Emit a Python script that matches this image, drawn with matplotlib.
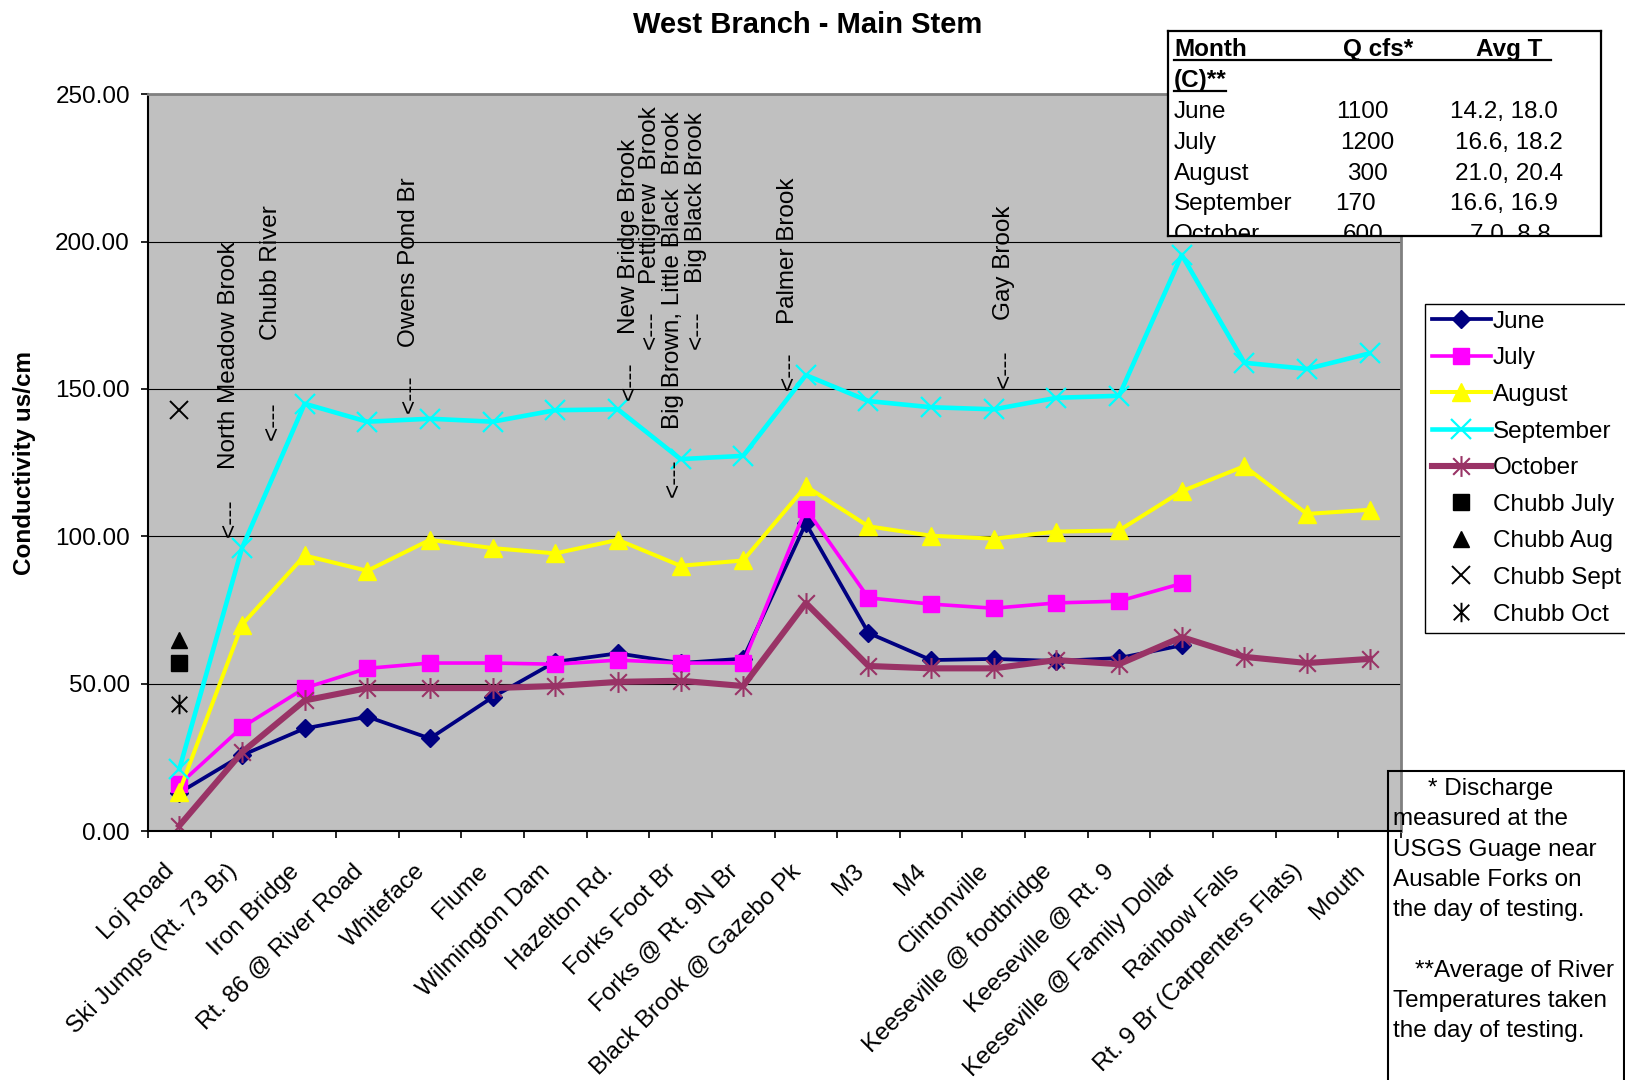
import numpy as np
import matplotlib
matplotlib.use("Agg")
import matplotlib.pyplot as plt
from matplotlib.path import Path
from matplotlib.patches import Rectangle
from matplotlib.transforms import ScaledTranslation

plt.rcParams['font.family'] = ['Liberation Sans', 'DejaVu Sans']

# ---- data -------------------------------------------------------------
sites = ["Loj Road", "Ski Jumps (Rt. 73 Br)", "Iron Bridge", "Rt. 86 @ River Road",
         "Whiteface", "Flume", "Wilmington Dam", "Hazelton Rd.", "Forks Foot Br",
         "Forks @ Rt. 9N Br", "Black Brook @ Gazebo Pk", "M3", "M4", "Clintonville",
         "Keeseville @ footbridge", "Keeseville @ Rt. 9", "Keeseville @ Family Dollar",
         "Rainbow Falls", "Rt. 9 Br (Carpenters Flats)", "Mouth"]

june = [13.0, 25.7, 34.8, 38.8, 31.4, 45.4, 57.4, 60.3, 57.0, 58.5, 104.4,
        67.2, 58.0, 58.4, 57.7, 58.7, 63.0]
july = [15.8, 35.2, 48.5, 55.2, 57.0, 57.0, 56.6, 58.0, 57.0, 57.0, 109.4,
        79.1, 77.0, 75.6, 77.4, 78.0, 84.0]
august = [13.4, 70.0, 93.5, 88.3, 98.8, 96.0, 94.2, 98.8, 90.0, 91.8, 117.0,
          103.4, 100.2, 99.2, 101.6, 102.0, 115.3, 123.8, 107.6, 109.0]
september = [21.0, 96.0, 145.0, 138.9, 139.9, 138.9, 142.8, 143.1, 126.2, 127.3, 154.7,
             145.9, 143.8, 143.1, 147.0, 147.7, 195.5, 158.9, 156.8, 162.1]
october = [1.8, 26.7, 44.3, 48.5, 48.5, 48.5, 49.2, 50.6, 51.0, 49.2, 77.4,
           56.0, 55.2, 55.2, 58.0, 56.6, 65.8, 59.1, 57.0, 58.4]

chubb_july = 57.0
chubb_aug = 64.7
chubb_sept = 142.8
chubb_oct = 43.2

# tributary names and where they enter (site index, conductivity level)
tributaries = ["North Meadow Brook", "Chubb River", "Owens Pond Br", "New Bridge Brook",
               "Pettigrew  Brook", "Big Brown, Little Black  Brook", "Big Black Brook",
               "Palmer Brook", "Gay Brook"]
trib_x = [0.79, 1.47, 3.66, 7.17, 7.51, 7.88, 8.24, 9.71, 13.16]
trib_text_y = [122.7, 166.7, 164.2, 168.5, 185.7, 136.4, 185.8, 171.9, 173.4]
trib_arrow_y = [99.9, 132.6, 142.0, 146.3, 163.5, 113.2, 163.5, 149.6, 150.3]

table_months = ["June", "July", "August", "September", "October"]
table_q = ["1100", "1200", "300", "170", "600"]
table_t = ["14.2, 18.0", "16.6, 18.2", "21.0, 20.4", "16.6, 16.9", "7.0, 8.8"]

# ---- figure -----------------------------------------------------------
W, H = 1625, 1080
fig = plt.figure(figsize=(W / 100, H / 100), dpi=100)
FS = 17.5

ax = fig.add_axes([148 / W, 1 - 831 / H, (1401 - 148) / W, (831 - 94.3) / H])
ax.set_facecolor('#C0C0C0')
ax.set_xlim(-0.5, 19.5)
ax.set_ylim(0, 250)

ax.yaxis.grid(True, color='black', linewidth=0.8)
ax.set_axisbelow(True)
ax.set_yticks(np.arange(0, 251, 50))
ax.set_yticklabels([f"{v:.2f}" for v in np.arange(0, 251, 50)], fontsize=FS)
ax.tick_params(axis='y', direction='out', length=5, width=1.2, pad=8)

ax.set_xticks(np.arange(len(sites)))
ax.set_xticklabels(sites, fontsize=FS, rotation=45, ha='right', va='top',
                   rotation_mode='anchor')
ax.set_xticks(np.arange(-0.5, 20, 1), minor=True)
ax.tick_params(axis='x', which='major', length=0, pad=21)
ax.tick_params(axis='x', which='minor', direction='out', length=5, width=1.2)
shift = ScaledTranslation(-16 / 100, 0, fig.dpi_scale_trans)
for lab in ax.get_xticklabels():
    lab.set_transform(lab.get_transform() + shift)

for side in ('left', 'bottom'):
    ax.spines[side].set_color('black')
    ax.spines[side].set_linewidth(1.5)
for side in ('top', 'right'):
    ax.spines[side].set_color('#808080')
    ax.spines[side].set_linewidth(2)

asterisk = Path([(-1, -1), (1, 1), (-1, 1), (1, -1), (0, -1.25), (0, 1.25)],
                [Path.MOVETO, Path.LINETO, Path.MOVETO, Path.LINETO, Path.MOVETO, Path.LINETO])

x_june = np.arange(len(june))
x_july = np.arange(len(july))
x_all = np.arange(len(sites))

h_jun, = ax.plot(x_june, june, color='#000080', lw=2.7, marker='D', ms=9, label='June')
h_jul, = ax.plot(x_july, july, color='#FF00FF', lw=2.6, marker='s', ms=12, label='July')
h_aug, = ax.plot(x_all, august, color='#FFFF00', lw=2.9, marker='^', ms=13, label='August')
h_sep, = ax.plot(x_all, september, color='#00FFFF', lw=3.3, marker='x', ms=14, mew=1.6,
                 label='September')
h_oct, = ax.plot(x_all, october, color='#993366', lw=4.4, marker=asterisk, ms=15, mew=1.5,
                 mfc='none', mec='#993366', label='October')

h_cj, = ax.plot([0], [chubb_july], ls='none', marker='s', ms=11, color='black', label='Chubb July')
h_ca, = ax.plot([0], [chubb_aug], ls='none', marker='^', ms=12, color='black', label='Chubb Aug')
h_cs, = ax.plot([0], [chubb_sept], ls='none', marker='x', ms=13, mew=1.4, color='black',
                label='Chubb Sept')
h_co, = ax.plot([0], [chubb_oct], ls='none', marker=asterisk, ms=14, mew=1.4, color='black',
                label='Chubb Oct')

for name, xt, yt, ya in zip(tributaries, trib_x, trib_text_y, trib_arrow_y):
    ax.text(xt, yt, name, rotation=90, ha='center', va='bottom', fontsize=FS, color='black')
    ax.text(xt + 0.015, ya, "<---", rotation=90, ha='center', va='bottom', fontsize=FS,
            color='black')

# ---- title and axis label ---------------------------------------------
fig.text(808 / W, 1 - 25 / H, "West Branch - Main Stem", ha='center', va='center',
         fontsize=21, fontweight='bold')
fig.text(25 / W, 1 - 463 / H, "Conductivity us/cm", ha='center', va='center',
         rotation=90, fontsize=FS, fontweight='bold')

# ---- legend -----------------------------------------------------------
leg = fig.legend(handles=[h_jun, h_jul, h_aug, h_sep, h_oct, h_cj, h_ca, h_cs, h_co],
                 loc='upper left', bbox_to_anchor=(1425 / W, 1 - 303.5 / H),
                 bbox_transform=fig.transFigure, fontsize=FS, frameon=True,
                 fancybox=False, framealpha=1, edgecolor='black', borderaxespad=0,
                 handlelength=2.4, handletextpad=0.1, labelspacing=0.6,
                 borderpad=0.3, numpoints=1)
leg.get_frame().set_linewidth(1.0)

# ---- discharge / temperature table ------------------------------------
tx0, ty0, tx1, ty1 = 1168, 31, 1601, 236
tab = fig.add_axes([tx0 / W, 1 - ty1 / H, (tx1 - tx0) / W, (ty1 - ty0) / H])
tab.set_xlim(tx0, tx1)
tab.set_ylim(ty1, ty0)
tab.set_xticks([])
tab.set_yticks([])
tab.set_facecolor('white')
for s in tab.spines.values():
    s.set_color('black')
    s.set_linewidth(1.6)

hdr_base = 56
tab.text(1174, hdr_base, "Month", fontsize=FS, fontweight='bold', va='baseline', clip_on=True)
tab.text(1343, hdr_base, "Q cfs*", fontsize=FS, fontweight='bold', va='baseline', clip_on=True)
tab.text(1476, hdr_base, "Avg T", fontsize=FS, fontweight='bold', va='baseline', clip_on=True)
tab.plot([1174, 1551], [hdr_base + 3.5, hdr_base + 3.5], color='black', lw=1.6)
tab.text(1174, 87, "(C)**", fontsize=FS, fontweight='bold', va='baseline', clip_on=True)
tab.plot([1174, 1226], [90.5, 90.5], color='black', lw=1.6)

row_base = [118, 148.8, 179.6, 210.4, 241.2]
q_x = [1336, 1340, 1347, 1335, 1343]
t_x = [1450, 1455, 1455, 1450, 1469.6]
for m, q, t, yb, qx, txx in zip(table_months, table_q, table_t, row_base, q_x, t_x):
    tab.text(1174, yb, m, fontsize=FS, va='baseline', clip_on=True)
    tab.text(qx, yb, q, fontsize=FS, va='baseline', clip_on=True)
    tab.text(txx, yb, t, fontsize=FS, va='baseline', clip_on=True)

# ---- footnote box -----------------------------------------------------
fig.add_artist(Rectangle((1388 / W, -0.01), (1624 - 1388) / W, (1 - 771 / H) + 0.01,
                         transform=fig.transFigure, fill=False, edgecolor='black',
                         linewidth=1.5, zorder=3))
notes = [("* Discharge", 1428, 795), ("measured at the", 1393, 825),
         ("USGS Guage near", 1393, 856), ("Ausable Forks on", 1393, 886),
         ("the day of testing.", 1393, 916), ("**Average of River", 1414.7, 977),
         ("Temperatures taken", 1393, 1007), ("the day of testing.", 1393, 1037)]
for txt, nx, ny in notes:
    fig.text(nx / W, 1 - ny / H, txt, fontsize=FS, ha='left', va='baseline', zorder=4)

fig.savefig("out.png", dpi=100)
